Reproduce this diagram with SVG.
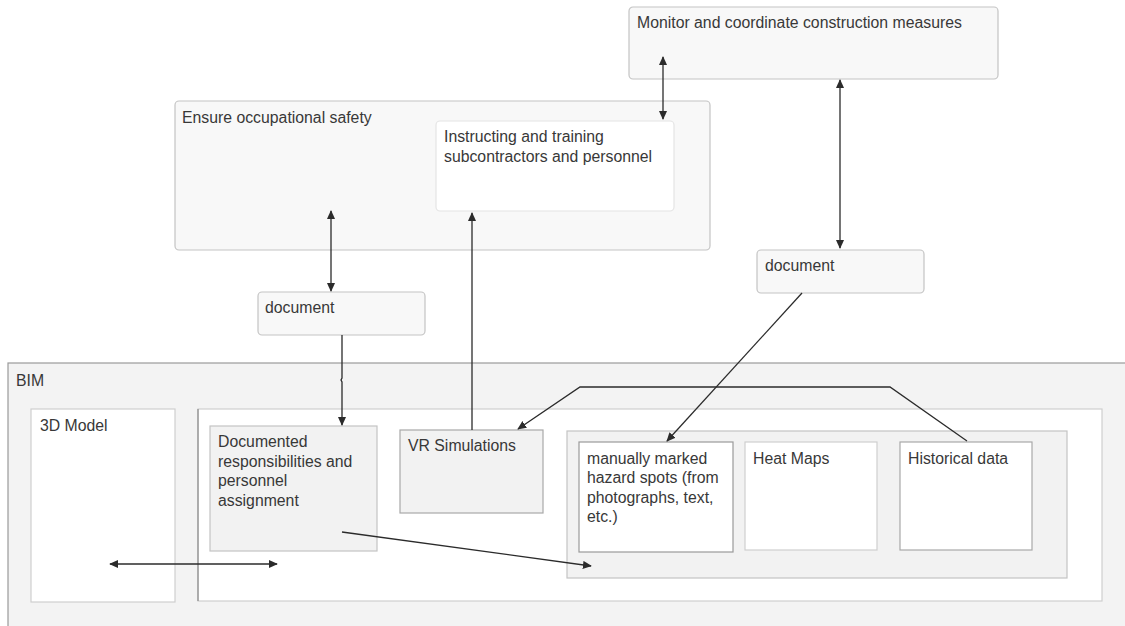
<svg xmlns="http://www.w3.org/2000/svg" width="1125" height="626" viewBox="0 0 1125 626">
  <style>
    text { font-family: "Liberation Sans", Arial, sans-serif; font-size: 15.8px; fill: #383838; }
    .panel { fill: #f8f8f8; stroke: #c4c4c4; stroke-width: 1.2; }
    .white { fill: #ffffff; stroke: #cfcfcf; stroke-width: 1.2; }
    .grey { fill: #f2f2f2; stroke: #c4c4c4; stroke-width: 1.2; }
    .edge { fill: none; stroke: #2b2b2b; stroke-width: 1.3; }
  </style>
  <defs>
    <marker id="head" viewBox="0 0 10 10" refX="9" refY="5" markerWidth="9" markerHeight="9" markerUnits="userSpaceOnUse" orient="auto-start-reverse">
      <path d="M0,0.5 L10,5 L0,9.5 z" fill="#2b2b2b"/>
    </marker>
  </defs>

  <rect width="1125" height="626" fill="#ffffff"/>

  <!-- BIM container -->
  <g id="bim">
    <rect x="8" y="363" width="1125" height="275" fill="#f3f3f3" stroke="#9a9a9a" stroke-width="1.2"/>
    <text x="16" y="386">BIM</text>
  </g>

  <g id="model3d">
    <rect class="white" x="31" y="409" width="144" height="193"/>
    <text x="40" y="431">3D Model</text>
  </g>

  <g id="bim-content">
    <rect x="198" y="409" width="904" height="192" fill="#ffffff" stroke="#cfcfcf" stroke-width="1.2"/>
    <line x1="198" y1="409" x2="198" y2="601" stroke="#8a8a8a" stroke-width="1.2"/>
  </g>

  <g id="documented">
    <rect class="grey" x="210" y="426" width="167" height="125"/>
    <text x="218" y="447">Documented</text>
    <text x="218" y="467">responsibilities and</text>
    <text x="218" y="486">personnel</text>
    <text x="218" y="506">assignment</text>
  </g>

  <g id="vr">
    <rect x="400" y="430" width="143" height="83" fill="#f2f2f2" stroke="#a8a8a8" stroke-width="1.2"/>
    <text x="408" y="451">VR Simulations</text>
  </g>

  <g id="hazard-sources">
    <rect class="grey" x="567" y="431" width="500" height="147"/>
  </g>

  <g id="manual">
    <rect x="579" y="442" width="154" height="110" fill="#ffffff" stroke="#9a9a9a" stroke-width="1.2"/>
    <text x="587" y="464">manually marked</text>
    <text x="587" y="483">hazard spots (from</text>
    <text x="587" y="503">photographs, text,</text>
    <text x="587" y="522">etc.)</text>
  </g>

  <g id="heatmaps">
    <rect class="white" x="745" y="442" width="132" height="108"/>
    <text x="753" y="464">Heat Maps</text>
  </g>

  <g id="historical">
    <rect x="900" y="442" width="132" height="108" fill="#ffffff" stroke="#a8a8a8" stroke-width="1.2"/>
    <text x="908" y="464">Historical data</text>
  </g>

  <g id="monitor">
    <rect class="panel" x="629" y="7" width="369" height="72" rx="4"/>
    <text x="637" y="28">Monitor and coordinate construction measures</text>
  </g>

  <g id="safety">
    <rect class="panel" x="175" y="101" width="535" height="149" rx="4"/>
    <text x="182" y="123">Ensure occupational safety</text>
  </g>

  <g id="training">
    <rect x="436" y="121" width="238" height="90" rx="4" fill="#ffffff" stroke="#e4e4e4" stroke-width="1.2"/>
    <text x="444" y="142">Instructing and training</text>
    <text x="444" y="162">subcontractors and personnel</text>
  </g>

  <g id="document-left">
    <rect class="panel" x="258" y="292" width="167" height="43" rx="4"/>
    <text x="265" y="313">document</text>
  </g>

  <g id="document-right">
    <rect class="panel" x="757" y="250" width="167" height="43" rx="4"/>
    <text x="765" y="271">document</text>
  </g>

  <g id="connectors">
    <line class="edge" x1="663" y1="57" x2="663" y2="119" marker-start="url(#head)" marker-end="url(#head)"/>
    <line class="edge" x1="840" y1="80" x2="840" y2="248" marker-start="url(#head)" marker-end="url(#head)"/>
    <line class="edge" x1="331" y1="211" x2="331" y2="291" marker-start="url(#head)" marker-end="url(#head)"/>
    <polyline class="edge" points="342,335 342,378 341,380 342,382 342,425" marker-end="url(#head)"/>
    <line class="edge" x1="472" y1="430" x2="472" y2="213" marker-end="url(#head)"/>
    <line class="edge" x1="802" y1="293" x2="667" y2="441" marker-end="url(#head)"/>
    <polyline class="edge" points="967,441 890,387 580,387 518,429" marker-end="url(#head)"/>
    <line class="edge" x1="110" y1="564" x2="277" y2="564" marker-start="url(#head)" marker-end="url(#head)"/>
    <line class="edge" x1="342" y1="532" x2="591" y2="566" marker-end="url(#head)"/>
  </g>
</svg>
